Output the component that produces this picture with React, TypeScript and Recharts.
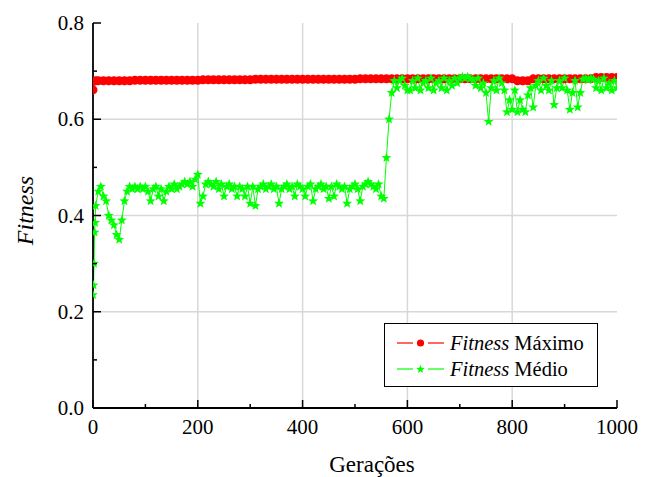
import React from 'react';
import { LineChart, Line, XAxis, YAxis, CartesianGrid, Legend } from 'recharts';

const FONT = '"Liberation Serif", "Times New Roman", Times, serif';
const RED = '#ff0000';
const GREEN = '#00ff00';

// x ticks every 100, labels every 200
const X_TICKS = [0, 100, 200, 300, 400, 500, 600, 700, 800, 900, 1000];
const Y_TICKS = [0, 0.1, 0.2, 0.3, 0.4, 0.5, 0.6, 0.7, 0.8];
const X_GRID = [200, 400, 600, 800];
const Y_GRID = [0.2, 0.4, 0.6];

// Fitness Máximo: first generations, then one value every 10 generations (10..1000)
const MAX_EARLY_GENS = [0, 1, 5];
const MAX_EARLY = [0.661, 0.679, 0.68];
const MAX_FITNESS = [
  0.680, 0.680, 0.680, 0.680, 0.680, 0.680, 0.680, 0.681, 0.681, 0.681,
  0.681, 0.681, 0.681, 0.681, 0.681, 0.681, 0.681, 0.681, 0.681, 0.681,
  0.682, 0.682, 0.682, 0.682, 0.682, 0.682, 0.682, 0.682, 0.682, 0.682,
  0.683, 0.683, 0.683, 0.683, 0.683, 0.683, 0.683, 0.683, 0.683, 0.683,
  0.683, 0.683, 0.683, 0.683, 0.683, 0.683, 0.683, 0.683, 0.683, 0.683,
  0.684, 0.684, 0.684, 0.684, 0.684, 0.684, 0.684, 0.684, 0.684, 0.684,
  0.684, 0.684, 0.684, 0.684, 0.684, 0.684, 0.684, 0.684, 0.684, 0.684,
  0.684, 0.684, 0.684, 0.684, 0.684, 0.684, 0.684, 0.684, 0.684, 0.684,
  0.680, 0.680, 0.680, 0.684, 0.684, 0.684, 0.684, 0.684, 0.684, 0.684,
  0.684, 0.684, 0.684, 0.684, 0.684, 0.687, 0.687, 0.687, 0.687, 0.687,
];

// Fitness Médio: first generations, then one value every 5 generations (5..1000)
const MEAN_EARLY_GENS = [0, 1, 2, 3, 4];
const MEAN_EARLY = [0.235, 0.255, 0.3, 0.365, 0.385];
const MEAN_FITNESS = [
  0.42, 0.45, 0.46, 0.44, 0.43, 0.40, 0.39, 0.38, 0.36, 0.35, 0.39, 0.43, 0.45, 0.46, 0.455, 0.46, 0.455, 0.46, 0.455, 0.46,
  0.45, 0.43, 0.455, 0.46, 0.44, 0.455, 0.43, 0.45, 0.46, 0.455, 0.465, 0.455, 0.46, 0.465, 0.47, 0.465, 0.47, 0.46, 0.475, 0.485,
  0.425, 0.44, 0.465, 0.47, 0.465, 0.46, 0.47, 0.455, 0.465, 0.44, 0.46, 0.465, 0.455, 0.46, 0.44, 0.46, 0.455, 0.44, 0.46, 0.425,
  0.46, 0.42, 0.455, 0.46, 0.465, 0.455, 0.46, 0.465, 0.455, 0.46, 0.425, 0.455, 0.46, 0.465, 0.455, 0.46, 0.44, 0.465, 0.46, 0.455,
  0.44, 0.46, 0.465, 0.43, 0.455, 0.46, 0.465, 0.455, 0.46, 0.435, 0.46, 0.44, 0.465, 0.46, 0.455, 0.46, 0.425, 0.455, 0.46, 0.465,
  0.455, 0.43, 0.46, 0.465, 0.47, 0.465, 0.46, 0.455, 0.465, 0.44, 0.435, 0.52, 0.60, 0.655, 0.68, 0.665, 0.68, 0.685, 0.67, 0.66,
  0.66, 0.68, 0.665, 0.685, 0.66, 0.675, 0.68, 0.665, 0.685, 0.66, 0.675, 0.68, 0.665, 0.685, 0.66, 0.68, 0.67, 0.685, 0.675, 0.685,
  0.688, 0.685, 0.688, 0.684, 0.682, 0.67, 0.685, 0.665, 0.675, 0.655, 0.595, 0.665, 0.68, 0.66, 0.685, 0.675, 0.66, 0.615, 0.64, 0.62,
  0.66, 0.615, 0.64, 0.62, 0.615, 0.65, 0.665, 0.625, 0.67, 0.68, 0.66, 0.685, 0.67, 0.66, 0.68, 0.63, 0.665, 0.68, 0.665, 0.685,
  0.66, 0.62, 0.655, 0.68, 0.625, 0.655, 0.683, 0.685, 0.682, 0.685, 0.683, 0.665, 0.68, 0.66, 0.685, 0.665, 0.675, 0.66, 0.68, 0.665,
];

const maxData = [
  ...MAX_EARLY_GENS.map((gen, i) => ({ gen, v: MAX_EARLY[i] })),
  ...MAX_FITNESS.map((v, i) => ({ gen: 10 + i * 10, v })),
];
const meanData = [
  ...MEAN_EARLY_GENS.map((gen, i) => ({ gen, v: MEAN_EARLY[i] })),
  ...MEAN_FITNESS.map((v, i) => ({ gen: 5 + i * 5, v })),
];

const starPath = (cx: number, cy: number, R: number, r: number) => {
  let d = '';
  for (let k = 0; k < 10; k++) {
    const rad = k % 2 === 0 ? R : r;
    const a = -Math.PI / 2 + (k * Math.PI) / 5;
    d += (k === 0 ? 'M' : 'L') + (cx + rad * Math.cos(a)).toFixed(2) + ',' + (cy + rad * Math.sin(a)).toFixed(2);
  }
  return d + 'Z';
};

const StarDot = (props: any) => {
  const { cx, cy, index } = props;
  if (cx == null || cy == null) return null;
  return <path key={`star-${index}`} d={starPath(cx, cy, 5.2, 2.2)} fill={GREEN} />;
};

const CircleDot = (props: any) => {
  const { cx, cy, index } = props;
  if (cx == null || cy == null) return null;
  return <circle key={`dot-${index}`} cx={cx} cy={cy} r={4.5} fill={RED} />;
};

const BottomTick = (props: any) => {
  const { x, y, payload } = props;
  const major = payload.value % 200 === 0;
  return (
    <g>
      <line x1={x} y1={y} x2={x} y2={y - (major ? 8 : 4)} stroke="#000" strokeWidth={1.5} />
      {major && (
        <text x={x} y={y + 26} textAnchor="middle" fontSize={21} fontFamily={FONT} fill="#000">
          {payload.value}
        </text>
      )}
    </g>
  );
};

const LeftTick = (props: any) => {
  const { x, y, payload } = props;
  const major = Math.round(payload.value * 10) % 2 === 0;
  return (
    <g>
      <line x1={x} y1={y} x2={x + (major ? 8 : 4)} y2={y} stroke="#000" strokeWidth={1.5} />
      {major && (
        <text x={x - 9} y={y + 7} textAnchor="end" fontSize={21} fontFamily={FONT} fill="#000">
          {payload.value.toFixed(1)}
        </text>
      )}
    </g>
  );
};

const TopTick = (props: any) => {
  const { x, y } = props;
  return <line x1={x} y1={y} x2={x} y2={y - 2} stroke="#000" strokeWidth={1} />;
};

const RightTick = (props: any) => {
  const { x, y } = props;
  return <line x1={x} y1={y} x2={x + 2} y2={y} stroke="#000" strokeWidth={1} />;
};

const LegendBox = () => (
  <div
    style={{
      boxSizing: 'border-box',
      width: 214,
      height: 64,
      border: '1px solid #000',
      background: '#fff',
      paddingTop: 6,
      fontFamily: FONT,
      fontSize: 20.5,
      color: '#000',
    }}
  >
    {[
      { color: RED, label: 'Máximo', star: false },
      { color: GREEN, label: 'Médio', star: true },
    ].map((s) => (
      <div key={s.label} style={{ display: 'flex', alignItems: 'center', height: 26 }}>
        <svg width={47} height={12} style={{ marginLeft: 12, flexShrink: 0 }}>
          <line x1={0} y1={6} x2={16} y2={6} stroke={s.color} strokeWidth={1.2} />
          <line x1={31} y1={6} x2={47} y2={6} stroke={s.color} strokeWidth={1.2} />
          {s.star ? (
            <path d={starPath(23.5, 6.3, 4.6, 1.9)} fill={s.color} />
          ) : (
            <circle cx={23.5} cy={6} r={3.6} fill={s.color} />
          )}
        </svg>
        <span style={{ marginLeft: 6, whiteSpace: 'nowrap' }}>
          <i>Fitness</i> {s.label}
        </span>
      </div>
    ))}
  </div>
);

export default function App() {
  return (
    <div style={{ position: 'absolute', left: 0, top: 0, background: '#fff' }}>
      <LineChart width={651} height={477} margin={{ top: 23, right: 34, bottom: 0, left: 0 }}>
        <CartesianGrid
          stroke="#d8d8d8"
          strokeWidth={1.5}
          verticalValues={X_GRID}
          horizontalValues={Y_GRID}
        />
        <XAxis
          dataKey="gen"
          type="number"
          domain={[0, 1000]}
          ticks={X_TICKS}
          interval={0}
          allowDataOverflow
          height={69}
          tickSize={0}
          tickMargin={0}
          tick={<BottomTick />}
          axisLine={{ stroke: '#000', strokeWidth: 1.8 }}
          label={(p: any) => {
            const vb = p.viewBox;
            return (
              <text x={vb.x + vb.width / 2 + 17} y={vb.y + 64} textAnchor="middle" fontSize={23} fontFamily={FONT} fill="#000">
                Gerações
              </text>
            );
          }}
        />
        <XAxis
          xAxisId="top"
          orientation="top"
          type="number"
          domain={[0, 1000]}
          ticks={X_TICKS}
          interval={0}
          allowDataOverflow
          height={0}
          tickSize={0}
          tickMargin={0}
          tick={<TopTick />}
          axisLine={{ stroke: '#000', strokeWidth: 1.5 }}
        />
        <YAxis
          type="number"
          domain={[0, 0.8]}
          ticks={Y_TICKS}
          interval={0}
          allowDataOverflow
          width={93}
          tickSize={0}
          tickMargin={0}
          tick={<LeftTick />}
          axisLine={{ stroke: '#000', strokeWidth: 1.8 }}
          label={(p: any) => {
            const vb = p.viewBox;
            const cx = vb.x + 25;
            const cy = vb.y + vb.height / 2 - 5;
            return (
              <text
                x={cx}
                y={cy}
                transform={`rotate(-90, ${cx}, ${cy})`}
                textAnchor="middle"
                dominantBaseline="central"
                fontSize={24}
                fontStyle="italic"
                fontFamily={FONT}
                fill="#000"
              >
                Fitness
              </text>
            );
          }}
        />
        <YAxis
          yAxisId="right"
          orientation="right"
          type="number"
          domain={[0, 0.8]}
          ticks={Y_TICKS}
          interval={0}
          allowDataOverflow
          width={0}
          tickSize={0}
          tickMargin={0}
          tick={<RightTick />}
          axisLine={{ stroke: '#000', strokeWidth: 1.5 }}
        />
        <Line
          data={maxData}
          dataKey="v"
          name="Fitness Máximo"
          stroke={RED}
          strokeWidth={1}
          dot={<CircleDot />}
          activeDot={false}
          isAnimationActive={false}
        />
        <Line
          data={meanData}
          dataKey="v"
          name="Fitness Médio"
          stroke={GREEN}
          strokeWidth={1}
          dot={<StarDot />}
          activeDot={false}
          isAnimationActive={false}
        />
        <Legend
          layout="horizontal"
          verticalAlign="middle"
          align="center"
          wrapperStyle={{ position: 'absolute', left: 384, top: 323, width: 214, height: 64 }}
          content={() => <LegendBox />}
        />
      </LineChart>
    </div>
  );
}
